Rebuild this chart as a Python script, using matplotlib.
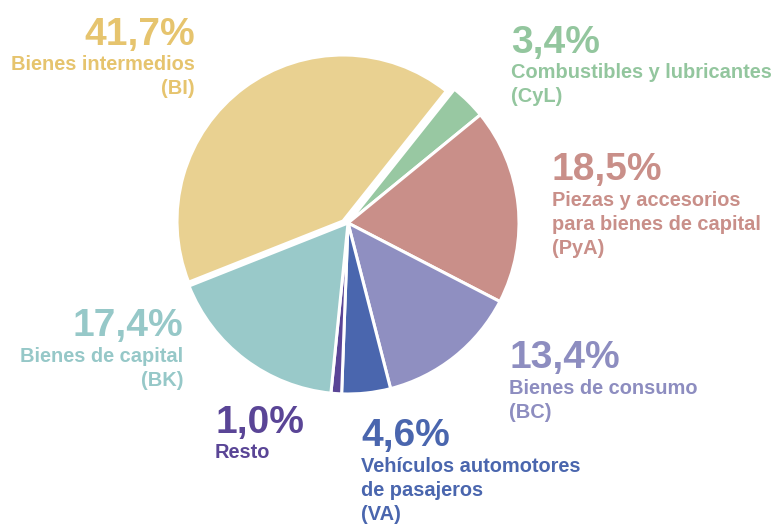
import matplotlib
matplotlib.use("Agg")
import matplotlib.pyplot as plt

codes = ["CyL", "PyA", "BC", "VA", "Resto", "BK", "BI"]
values = [3.4, 18.5, 13.4, 4.6, 1.0, 17.4, 41.7]
pct_labels = ["3,4%", "18,5%", "13,4%", "4,6%", "1,0%", "17,4%", "41,7%"]
names = [
    ["Combustibles y lubricantes", "(CyL)"],
    ["Piezas y accesorios", "para bienes de capital", "(PyA)"],
    ["Bienes de consumo", "(BC)"],
    ["Vehículos automotores", "de pasajeros", "(VA)"],
    ["Resto"],
    ["Bienes de capital", "(BK)"],
    ["Bienes intermedios", "(BI)"],
]
colors = ["#98C8A2", "#C98F89", "#8F8FC1", "#4A66AE", "#5A4596", "#99C9C9", "#E9D191"]
text_colors = ["#93C69E", "#C98F89", "#8D8DC0", "#4A66AE", "#5A4596", "#96C8C8", "#E6C46E"]

W, H = 776, 525
fig = plt.figure(figsize=(W / 100, H / 100), dpi=100)
plt.rcParams['font.family'] = ['Liberation Sans', 'DejaVu Sans']

cx, cy, r = 348, 223, 171
half = 1.2 * r
ax = fig.add_axes([(cx - half) / W, (H - cy - half) / H, 2 * half / W, 2 * half / H])
wedges, _ = ax.pie(values, colors=colors, startangle=51.5, counterclock=False,
                   wedgeprops=dict(edgecolor="white", linewidth=2.2))
# the BI wedge is slightly detached and smaller
wedges[6].set_center((-5 / r, 2 / r))
wedges[6].set_radius(166 / r)
ax.set_xlim(-1.2, 1.2)
ax.set_ylim(-1.2, 1.2)
ax.set_aspect("equal")
ax.axis("off")

# label positions (pixels): x, y of percentage center, alignment
pos = {
    "BI": (195, 32, "right"),
    "CyL": (511, 40, "left"),
    "PyA": (552, 167, "left"),
    "BK": (183, 323, "right"),
    "BC": (509, 355, "left"),
    "Resto": (215, 420, "left"),
    "VA": (361, 433, "left"),
}
for code, pct, lines, tc in zip(codes, pct_labels, names, text_colors):
    x, y, ha = pos[code]
    fig.text(x / W, 1 - (y + 3) / H, pct, ha=ha, va="center", fontsize=28,
             fontweight="bold", color=tc)
    for i, line in enumerate(lines):
        fig.text(x / W, 1 - (y + 33 + 24 * i) / H, line, ha=ha, va="center",
                 fontsize=14.4, fontweight="bold", color=tc)

fig.savefig("out.png", dpi=100)
